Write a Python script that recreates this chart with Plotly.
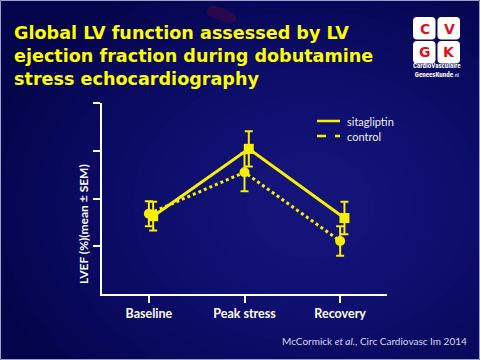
import plotly.graph_objects as go

# ---- data ----
categories = ["Baseline", "Peak stress", "Recovery"]
sita_vals = [56.3, 70.4, 55.9]
sita_err = [3.0, 3.7, 3.4]
ctrl_vals = [56.8, 65.5, 51.1]
ctrl_err = [2.6, 4.0, 3.1]
y_ticks = [50, 60, 70, 80]
series_names = ["sitagliptin", "control"]

W, H = 480, 360
L, R, T, B = 102, 387, 103, 294  # plot area in pixels

def px(x):
    return (x - L) / (R - L)

def py(y):
    return (B - y) / (B - T)

YELLOW = "#f8f000"
xs = list(range(len(categories)))
offset = 0.045

fig = go.Figure()
fig.add_trace(go.Scatter(
    x=xs, y=ctrl_vals, mode="lines+markers", name=series_names[1], showlegend=False,
    line=dict(color=YELLOW, width=3, dash="dot"),
    marker=dict(symbol="circle", size=10, color=YELLOW),
    error_y=dict(type="data", array=ctrl_err, color=YELLOW, thickness=2, width=4),
))
fig.add_trace(go.Scatter(
    x=[x + offset for x in xs], y=sita_vals, mode="lines+markers", name=series_names[0], showlegend=False,
    line=dict(color=YELLOW, width=3),
    marker=dict(symbol="square", size=10, color=YELLOW),
    error_y=dict(type="data", array=sita_err, color=YELLOW, thickness=2, width=4),
))

shapes = []
# background gradient
base_cx, base_cy = 310, 205
n = 16
for i in range(n):
    rx = 330 - i * 19
    ry = 250 - i * 14
    shapes.append(dict(type="circle", xref="paper", yref="paper", layer="below",
                       x0=px(base_cx - rx), x1=px(base_cx + rx),
                       y0=py(base_cy + ry), y1=py(base_cy - ry),
                       fillcolor="rgba(35,35,165,0.055)", line=dict(width=0)))
# faint blood cell
shapes.append(dict(type="path", xref="paper", yref="paper", layer="below",
                   path=f"M {px(207)},{py(12)} Q {px(208)},{py(3)} {px(222)},{py(8)} "
                        f"Q {px(238)},{py(14)} {px(236)},{py(20)} Q {px(233)},{py(26)} {px(219)},{py(20)} "
                        f"Q {px(206)},{py(16)} {px(207)},{py(12)} Z",
                   fillcolor="rgba(90,15,55,0.4)", line=dict(width=0)))
# border
shapes.append(dict(type="rect", xref="paper", yref="paper", layer="above",
                   x0=px(0.5), x1=px(479.5), y0=py(359.5), y1=py(0.5),
                   line=dict(color="#9aa0c8", width=1)))
# logo squares
def rrect(x0, y0, x1, y1, r=4):
    return (f"M {px(x0+r)},{py(y0)} L {px(x1-r)},{py(y0)} Q {px(x1)},{py(y0)} {px(x1)},{py(y0+r)} "
            f"L {px(x1)},{py(y1-r)} Q {px(x1)},{py(y1)} {px(x1-r)},{py(y1)} "
            f"L {px(x0+r)},{py(y1)} Q {px(x0)},{py(y1)} {px(x0)},{py(y1-r)} "
            f"L {px(x0)},{py(y0+r)} Q {px(x0)},{py(y0)} {px(x0+r)},{py(y0)} Z")
for (x0, y0) in [(413, 17), (437.5, 17), (413, 41), (437.5, 41)]:
    shapes.append(dict(type="path", xref="paper", yref="paper", layer="above",
                       path=rrect(x0, y0, x0 + 22.5, y0 + 22.5),
                       fillcolor="white", line=dict(width=0)))
# legend samples
for i, dash in enumerate(["solid", "dash"]):
    yy = 121 + i * 15
    shapes.append(dict(type="line", xref="paper", yref="paper", layer="above",
                       x0=px(317), x1=px(340), y0=py(yy), y1=py(yy),
                       line=dict(color=YELLOW, width=2.5, dash=dash)))

annotations = []
annotations.append(dict(
    text="<b>Global LV function assessed by LV<br>ejection fraction during dobutamine<br>stress echocardiography</b>",
    xref="paper", yref="paper", x=px(12), y=py(21), xanchor="left", yanchor="top",
    align="left", showarrow=False,
    font=dict(family="DejaVu Sans", size=17.6, color="#ffff00")))
for letter, cx, cy in [("C", 424.5, 28.5), ("V", 449, 28.5), ("G", 424.5, 52.5), ("K", 449, 52.5)]:
    annotations.append(dict(text=f"<b>{letter}</b>", xref="paper", yref="paper",
                            x=px(cx), y=py(cy), xanchor="center", yanchor="middle",
                            showarrow=False, font=dict(family="DejaVu Sans", size=14, color="#e0101c")))
annotations.append(dict(text="<b>CardioVasculaire<br>GeneesKunde</b><span style='font-size:6px'>.nl</span>",
                        xref="paper", yref="paper", x=px(437), y=py(70.5), xanchor="center",
                        yanchor="middle", showarrow=False, align="center",
                        font=dict(family="Liberation Sans Narrow, Roboto Condensed, Roboto", size=7, color="white")))
annotations.append(dict(text="<b>LVEF (%)(mean ± SEM)</b>", xref="paper", yref="paper",
                        x=px(83), y=py(224), xanchor="center", yanchor="middle", textangle=-90,
                        showarrow=False, font=dict(family="Lato", size=12, color="white")))
annotations.append(dict(text="McCormick <i>et al.</i>, Circ Cardiovasc Im 2014",
                        xref="paper", yref="paper", x=px(280), y=py(341), xanchor="left",
                        yanchor="middle", showarrow=False,
                        font=dict(family="Lato", size=10, color="#d8d8ec")))
for i, name in enumerate(series_names):
    annotations.append(dict(text=name, xref="paper", yref="paper", x=px(345), y=py(121 + i * 15),
                            xanchor="left", yanchor="middle", showarrow=False,
                            font=dict(family="Lato", size=11, color="#eeeeee")))

fig.update_layout(
    width=W, height=H,
    margin=dict(l=L, r=W - R, t=T, b=H - B, pad=0),
    paper_bgcolor="#04044a", plot_bgcolor="rgba(0,0,0,0)",
    shapes=shapes, annotations=annotations,
    showlegend=False,
    xaxis=dict(range=[-0.49, 2.49], tickmode="array", tickvals=xs, ticktext=categories,
               showgrid=False, zeroline=False, showline=True, linecolor="white", linewidth=2,
               ticks="outside", ticklen=7, tickwidth=2, tickcolor="white",
               tickfont=dict(family="Lato", size=12.5, color="white", weight="bold")),
    yaxis=dict(range=[40, 80], tickmode="array", tickvals=y_ticks, showticklabels=False,
               showgrid=False, zeroline=False, showline=True, linecolor="white", linewidth=2,
               ticks="outside", ticklen=7, tickwidth=2, tickcolor="white"),
)

fig.write_html("out.html", config={"displayModeBar": False},
               post_script="document.body.style.margin='0';document.body.style.overflow='hidden';")
